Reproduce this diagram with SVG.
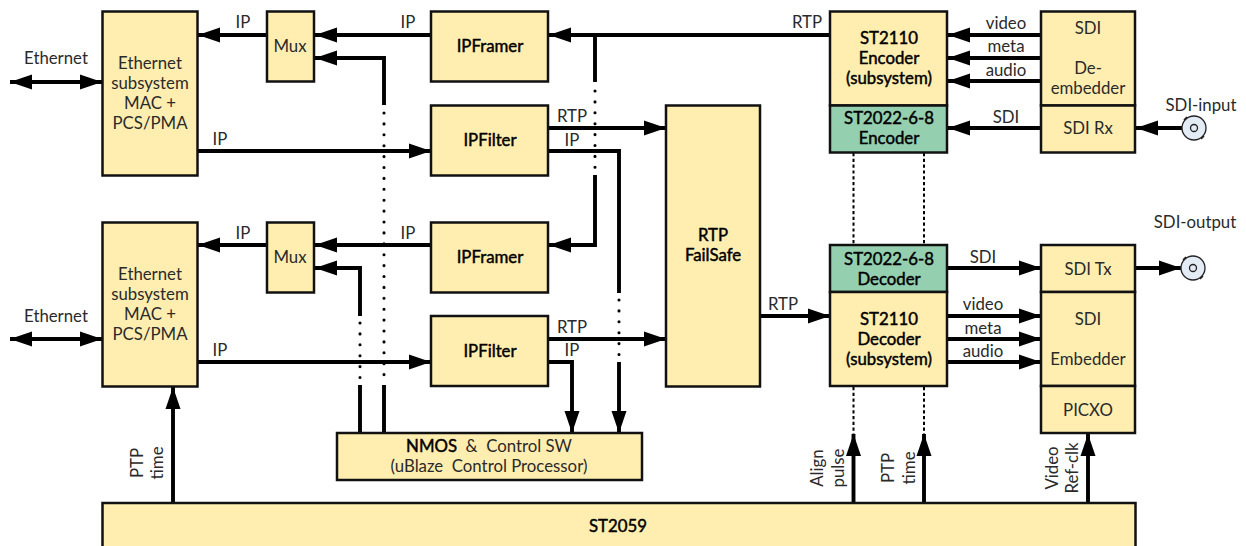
<svg xmlns="http://www.w3.org/2000/svg" width="1246" height="546" viewBox="0 0 1246 546">
<style>
text{font-family:"Lato","Noto Sans",sans-serif;font-size:16.8px;fill:#2a2a2a;text-anchor:middle}
.b{fill:#000;stroke:#000;stroke-width:.45}
.y{fill:#ffeeb0;stroke:#111;stroke-width:2.5}
.g{fill:#94cfb0;stroke:#111;stroke-width:2.5}
.w{fill:none;stroke:#000;stroke-width:3.9}
.a{marker-end:url(#ah)}
.s{marker-start:url(#as);marker-end:url(#ah)}
.d{fill:none;stroke:#000;stroke-width:3.1;stroke-linecap:round;stroke-dasharray:0 10.9}
.f{fill:none;stroke:#000;stroke-width:2;stroke-dasharray:3.2 2.6}
.c{fill:#e3ebf5;stroke:#222;stroke-width:1.3}
.l{fill:none;stroke:#222;stroke-width:1.6}
</style>
<defs>
<marker id="ah" markerUnits="userSpaceOnUse" markerWidth="23" markerHeight="17" refX="22" refY="8" orient="auto"><path d="M0 0.5L22 8L0 15.5Z" fill="#000"/></marker>
<marker id="as" markerUnits="userSpaceOnUse" markerWidth="23" markerHeight="17" refX="0" refY="8" orient="auto"><path d="M22 0.5L0 8L22 15.5Z" fill="#000"/></marker>
</defs>
<g id="connectors">
<path class="w s" d="M10 82H102"/>
<path class="w s" d="M10 339H102"/>
<path class="w a" d="M267 35H198"/>
<path class="w a" d="M267 245H198"/>
<path class="w a" d="M431 35H315"/>
<path class="w a" d="M431 245H315"/>
<path class="w a" d="M384 105V58H315"/>
<path class="w a" d="M360 316V268H315"/>
<path class="w" d="M360 433V385"/>
<path class="w" d="M384 433V385"/>
<path class="d" d="M384 113V380"/>
<path class="d" d="M360 323V380"/>
<path class="w a" d="M197 151H431"/>
<path class="w a" d="M197 362H431"/>
<path class="w a" d="M830 35H549"/>
<path class="w" d="M595 35V82"/>
<path class="d" d="M595 91V170"/>
<path class="w a" d="M595 175V245H549"/>
<path class="w a" d="M548 128H666"/>
<path class="w a" d="M548 339H666"/>
<path class="w" d="M548 151H619V293"/>
<path class="d" d="M619 300V358"/>
<path class="w a" d="M619 362V433"/>
<path class="w a" d="M548 362H572V433"/>
<path class="w a" d="M760 316H830"/>
<path class="w a" d="M1041 35H948"/>
<path class="w a" d="M1041 58H948"/>
<path class="w a" d="M1041 81H948"/>
<path class="w a" d="M1041 128H948"/>
<path class="w a" d="M1182 128H1136"/>
<path class="w a" d="M947 268H1041"/>
<path class="w a" d="M947 316H1041"/>
<path class="w a" d="M947 339H1041"/>
<path class="w a" d="M947 362H1041"/>
<path class="w a" d="M1135 268H1181"/>
<path class="f" d="M853.5 153V245"/>
<path class="f" d="M924 153V245"/>
<path class="f" d="M853.5 387V434"/>
<path class="f" d="M924 387V434"/>
<path class="w a" d="M173 503V387"/>
<path class="w a" d="M853.5 503V434"/>
<path class="w a" d="M924 503V434"/>
<path class="w a" d="M1088 503V434"/>
</g>
<g id="eth1"><rect class="y" x="102.500" y="11.500" width="95" height="164"/><text x="150" y="69">Ethernet</text><text x="150" y="89">subsystem</text><text x="150" y="109">MAC +</text><text x="150" y="129">PCS/PMA</text></g>
<g id="eth2"><rect class="y" x="102.500" y="222.500" width="95" height="164"/><text x="150" y="280">Ethernet</text><text x="150" y="300">subsystem</text><text x="150" y="320">MAC +</text><text x="150" y="340">PCS/PMA</text></g>
<g id="mux1"><rect class="y" x="267" y="11.500" width="47" height="70"/><text x="290" y="52">Mux</text></g>
<g id="mux2"><rect class="y" x="267" y="222.500" width="47" height="70"/><text x="290" y="263">Mux</text></g>
<g id="ipframer1"><rect class="y" x="431" y="11.500" width="117" height="70"/><text class="b" x="490" y="52">IPFramer</text></g>
<g id="ipfilter1"><rect class="y" x="431" y="105.500" width="117" height="70"/><text class="b" x="490" y="146">IPFilter</text></g>
<g id="ipframer2"><rect class="y" x="431" y="222.500" width="117" height="70"/><text class="b" x="490" y="263">IPFramer</text></g>
<g id="ipfilter2"><rect class="y" x="431" y="316" width="117" height="70"/><text class="b" x="490" y="357">IPFilter</text></g>
<g id="failsafe"><rect class="y" x="666" y="105.500" width="94" height="281"/><text class="b" x="713" y="241">RTP</text><text class="b" x="713" y="261">FailSafe</text></g>
<g id="st2110enc"><rect class="y" x="830" y="11.500" width="117" height="94"/><text class="b" x="889" y="44">ST2110</text><text class="b" x="889" y="64">Encoder</text><text class="b" x="889" y="84">(subsystem)</text></g>
<g id="st2022enc"><rect class="g" x="830" y="105.500" width="117" height="47"/><text class="b" x="889" y="124">ST2022-6-8</text><text class="b" x="889" y="144">Encoder</text></g>
<g id="st2022dec"><rect class="g" x="830" y="245" width="117" height="47"/><text class="b" x="889" y="265">ST2022-6-8</text><text class="b" x="889" y="285">Decoder</text></g>
<g id="st2110dec"><rect class="y" x="830" y="292" width="117" height="94"/><text class="b" x="889" y="325">ST2110</text><text class="b" x="889" y="345">Decoder</text><text class="b" x="889" y="365">(subsystem)</text></g>
<g id="deembedder"><rect class="y" x="1041" y="11.500" width="94" height="94"/><text x="1088" y="34">SDI</text><text x="1088" y="74">De-</text><text x="1088" y="94">embedder</text></g>
<g id="sdirx"><rect class="y" x="1041" y="105.500" width="94" height="47"/><text x="1088" y="134">SDI Rx</text></g>
<g id="sditx"><rect class="y" x="1041" y="245" width="94" height="47"/><text x="1088" y="275">SDI Tx</text></g>
<g id="embedder"><rect class="y" x="1041" y="292" width="94" height="94"/><text x="1088" y="325">SDI</text><text x="1088" y="365">Embedder</text></g>
<g id="picxo"><rect class="y" x="1041" y="386" width="94" height="47"/><text x="1088" y="416">PICXO</text></g>
<g id="nmos"><rect class="y" x="337" y="433" width="305" height="47"/><text x="489" y="452"><tspan class="b">NMOS</tspan>&#160; &amp; &#160;Control SW</text><text x="489" y="472">(uBlaze&#160; Control Processor)</text></g>
<g id="st2059"><rect class="y" x="102.500" y="503" width="1033" height="50"/><text class="b" x="618" y="532">ST2059</text></g>
<g id="sdi-in"><path class="l" d="M1184 120l3-3M1204 136l-3 3"/><circle class="c" cx="1194" cy="128" r="12"/><circle class="c" cx="1194" cy="128" r="3.5"/></g>
<g id="sdi-out"><path class="l" d="M1183 260l3-3M1203 276l-3 3"/><circle class="c" cx="1193" cy="268" r="12"/><circle class="c" cx="1193" cy="268" r="3.5"/></g>
<g id="labels">
<text x="56" y="64">Ethernet</text>
<text x="56" y="322">Ethernet</text>
<text x="243" y="28">IP</text>
<text x="243" y="239">IP</text>
<text x="408" y="28">IP</text>
<text x="408" y="239">IP</text>
<text x="220" y="145">IP</text>
<text x="220" y="356">IP</text>
<text x="572" y="122">RTP</text>
<text x="572" y="146">IP</text>
<text x="572" y="333">RTP</text>
<text x="572" y="356">IP</text>
<text x="807" y="28">RTP</text>
<text x="783" y="310">RTP</text>
<text x="1006" y="29">video</text>
<text x="1006" y="52">meta</text>
<text x="1006" y="76">audio</text>
<text x="1006" y="123">SDI</text>
<text x="983" y="263">SDI</text>
<text x="983" y="310">video</text>
<text x="983" y="334">meta</text>
<text x="983" y="357">audio</text>
<text x="1201" y="111">SDI-input</text>
<text x="1195" y="228">SDI-output</text>
<text transform="translate(143 463) rotate(-90)">PTP</text>
<text transform="translate(163 463) rotate(-90)">time</text>
<text transform="translate(823 468) rotate(-90)">Align</text>
<text transform="translate(844 468) rotate(-90)">pulse</text>
<text transform="translate(894 468) rotate(-90)">PTP</text>
<text transform="translate(915 468) rotate(-90)">time</text>
<text transform="translate(1058 468) rotate(-90)">Video</text>
<text transform="translate(1078 468) rotate(-90)">Ref-clk</text>
</g>
</svg>
